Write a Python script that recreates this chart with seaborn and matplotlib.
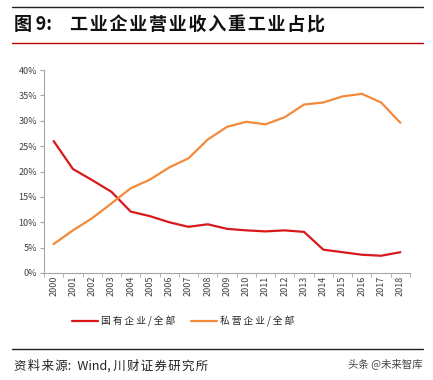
import matplotlib
matplotlib.use("Agg")
import matplotlib.pyplot as plt
import seaborn as sns
import pandas as pd
from matplotlib.lines import Line2D
from matplotlib.ticker import PercentFormatter

years = [str(y) for y in range(2000, 2019)]
state_share = [26.0, 20.5, 18.3, 16.0, 12.1, 11.2, 10.0, 9.1, 9.6, 8.7,
               8.4, 8.2, 8.4, 8.1, 4.6, 4.1, 3.6, 3.4, 4.1]
private_share = [5.7, 8.4, 10.8, 13.7, 16.7, 18.4, 20.8, 22.6, 26.3, 28.8,
                 29.8, 29.3, 30.7, 33.2, 33.6, 34.8, 35.3, 33.6, 29.6]
series_names = ["国有企业/全部", "私营企业/全部"]
colors = ["#d7191c", "#f28a3c"]

df = pd.DataFrame({"year": years * 2,
                   "share": state_share + private_share,
                   "series": [series_names[0]] * len(years) + [series_names[1]] * len(years)})

sns.set_style("white")
plt.rcParams["font.family"] = ["Noto Sans CJK SC", "DejaVu Sans"]


def spaced(s, sp="\u200a"):
    # loose letter spacing like the original report font
    return sp.join(s)


fig = plt.figure(figsize=(4.33, 3.8), dpi=100)
ax = fig.add_axes([44 / 433, 1 - 273 / 380, 366 / 433, 203 / 380])

sns.lineplot(data=df, x="year", y="share", hue="series", palette=colors,
             linewidth=1.6, ax=ax, legend=False, sort=False)

ax.set_ylim(0, 40)
ax.set_yticks(range(0, 41, 5))
ax.yaxis.set_major_formatter(PercentFormatter(decimals=0))
ax.set_xlim(-0.5, len(years) - 0.5)
ax.set_xlabel("")
ax.set_ylabel("")
for s in ["top", "right"]:
    ax.spines[s].set_visible(False)
for s in ["left", "bottom"]:
    ax.spines[s].set_color("#a6a6a6")
    ax.spines[s].set_linewidth(0.8)
ax.tick_params(axis="x", rotation=90, labelsize=6.5, colors="#404040", length=3,
               direction="out", bottom=True, color="#a6a6a6", pad=2)
ax.tick_params(axis="y", labelsize=6.5, colors="#404040", length=3,
               direction="out", left=True, color="#a6a6a6", pad=2)
ax.set_xticks([i + 0.5 for i in range(-1, len(years))], minor=True)
ax.tick_params(axis="x", which="minor", length=3, color="#a6a6a6", bottom=True)
ax.tick_params(axis="x", which="major", length=0)

handles = [Line2D([0], [0], color=c, lw=1.6) for c in colors]
fig.legend(handles, [spaced(n, "\u2009") for n in series_names], loc="center left",
           bbox_to_anchor=(63 / 433, 1 - 321 / 380), ncol=2, frameon=False,
           fontsize=7, handlelength=2.7, handletextpad=0.3, columnspacing=1.6)

# header lines and title
fig.add_artist(Line2D([12 / 433, 423 / 433], [1 - 7 / 380] * 2, color="#222222", lw=1.0))
fig.text(14 / 433, 1 - 25 / 380, "图\u20099:\u2003" + spaced("工业企业营业收入重工业占比"),
         fontsize=13, fontweight="bold", va="center", ha="left", color="#111111")
fig.add_artist(Line2D([12 / 433, 423 / 433], [1 - 43 / 380] * 2, color="#c00000", lw=1.0))

# footer
fig.add_artist(Line2D([12 / 433, 423 / 433], [1 - 349 / 380] * 2, color="#222222", lw=1.0))
fig.text(14 / 433, 1 - 366 / 380, spaced("资料来源") + ":\u2002Wind,\u2009" + spaced("川财证券研究所"),
         fontsize=9, style="italic", va="center", ha="left", color="#222222")
fig.text(422 / 433, 1 - 364 / 380, "头条 @未来智库", fontsize=7.5,
         va="center", ha="right", color="#444444")

fig.savefig("out.png", dpi=100)
